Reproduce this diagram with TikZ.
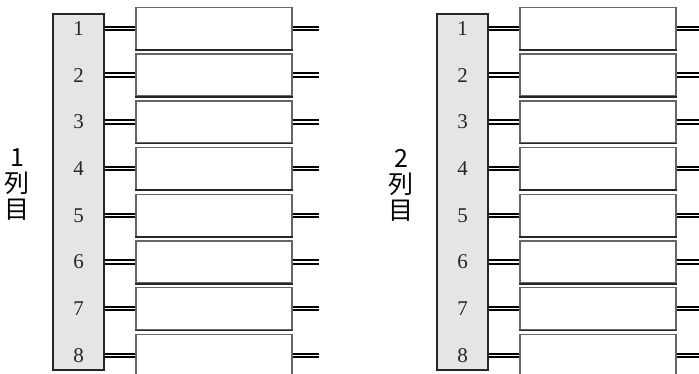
\documentclass[tikz,border=0pt]{standalone}
\usepackage{fontspec}
\setmainfont{Liberation Serif}
\newfontfamily\jpfont{Noto Sans CJK JP}
\usetikzlibrary{positioning}
\tikzset{
  rack/.style={draw=black!85, fill=black!10, line width=1.5pt, minimum width=51pt, minimum height=356pt, inner sep=0pt},
  slot/.style={draw=black!60, fill=white, line width=1.4pt, minimum width=156pt, minimum height=42pt, inner sep=0pt},
  num/.style={font=\fontsize{21}{22}\selectfont, text=black!85},
  cable/.style={draw=black, line width=2pt, double=white, double distance=1.4pt},
  colname/.style={font=\jpfont\fontsize{25}{26}\selectfont, align=center}
}
\begin{document}
\begin{tikzpicture}[x=1pt,y=-1pt]
  \useasboundingbox (0,0) rectangle (699,374);
  \clip (0,0) rectangle (699,374);
  \foreach \g/\ox in {1/0,2/384}
  {
    \node[rack] (bar\g) at (78.5+\ox,192) {};
    \node[colname] (lbl\g) at (17+\ox,185) {\g\\列\\目};
    \foreach \i in {1,...,8}
    {
      \node[slot] (box\g-\i) at (214+\ox,28.5+46.7*\i-46.7) {};
      \node[num] (n\g-\i) at (bar\g.center |- box\g-\i.center) {\i};
      \coordinate (end\g-\i) at ([xshift=26pt]box\g-\i.east);
      \draw[cable] (bar\g.east |- box\g-\i.west) -- (box\g-\i.west);
      \draw[cable] (box\g-\i.east) -- (end\g-\i);
      % darker lower edge of each slot
      \draw[black!85, line width=1.8pt] (box\g-\i.south west) -- (box\g-\i.south east);
    }
  }
\end{tikzpicture}
\end{document}
